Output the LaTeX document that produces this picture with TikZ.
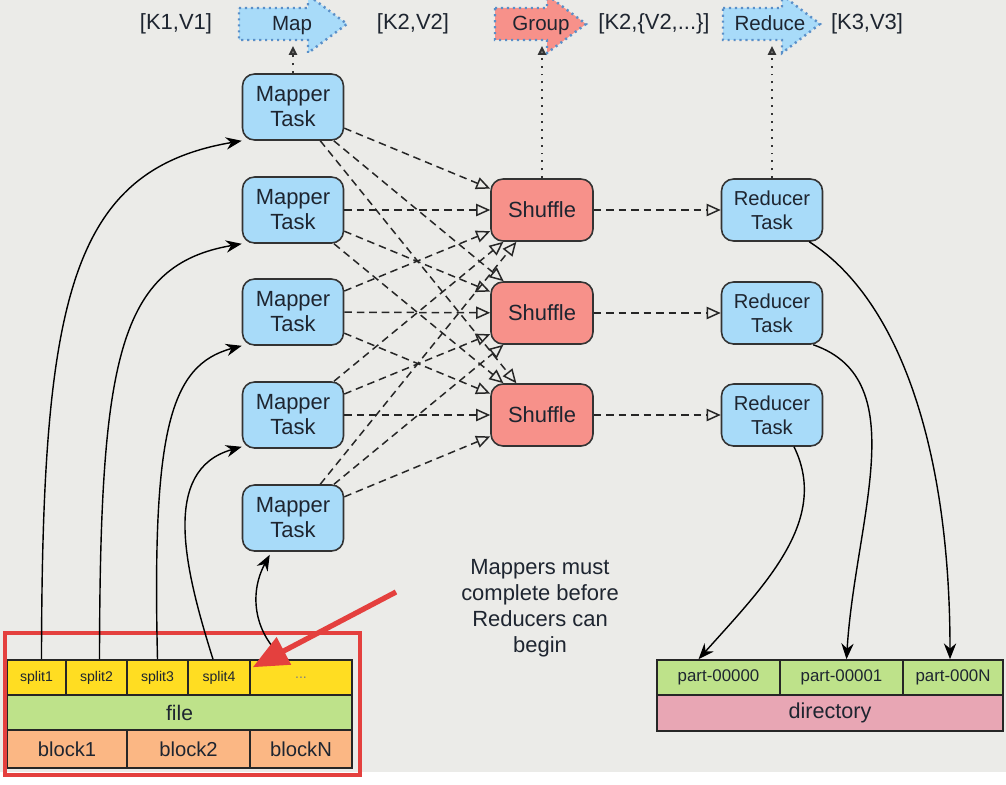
\documentclass[tikz,border=0pt]{standalone}
\usepackage{fontspec}
\setmainfont{Liberation Sans}
\usetikzlibrary{arrows.meta,calc}
\definecolor{bgc}{HTML}{EBEBE8}
\definecolor{taskblue}{HTML}{A8DBF9}
\definecolor{shufred}{HTML}{F7918A}
\definecolor{dotblue}{HTML}{5A8FC8}
\definecolor{splity}{HTML}{FFDD22}
\definecolor{fileg}{HTML}{BEE28A}
\definecolor{blocko}{HTML}{FBB784}
\definecolor{dirpink}{HTML}{E8A6B4}
\definecolor{annred}{HTML}{E4403E}
\definecolor{txt}{HTML}{1E2530}
\begin{document}
\begin{tikzpicture}[x=0.02cm,y=-0.02cm,
  every node/.style={text=txt},
  task/.style={draw=black!80, line width=0.9pt, rounded corners=0.24cm, fill=taskblue,
     minimum width=2.02cm, minimum height=1.32cm, inner sep=0pt, align=center,
     font=\fontsize{12.5}{14.2}\selectfont},
  shuf/.style={task, fill=shufred, minimum width=2.04cm, minimum height=1.24cm},
  red/.style={task, minimum height=1.24cm, font=\fontsize{11.5}{13.6}\selectfont},
  flow/.style={dash pattern=on 4.3pt off 2.8pt, line width=0.85pt, black!85,
     -{Triangle[open,length=8pt,width=7pt]}},
  up/.style={dash pattern=on 1.1pt off 3.4pt, line width=1.2pt, black!80,
     -{Triangle[open,length=5pt,width=4.5pt]}},
  feed/.style={line width=0.8pt, black, -{Stealth[length=9pt,width=7pt]}},
  bigarrow/.style={dash pattern=on 1.2pt off 2.2pt, line width=1.4pt, draw=dotblue},
  cell/.style={draw=black!85, line width=0.9pt, inner sep=0pt},
  lab/.style={font=\fontsize{12.5}{15}\selectfont},
  arlab/.style={font=\fontsize{11.7}{14}\selectfont, anchor=base}
]
\useasboundingbox (0,0) rectangle (1006,784);
\fill[bgc] (0,0) rectangle (1006,772);
\fill[white] (0,772) rectangle (1006,784);

% top arrows
\draw[bigarrow, fill=taskblue] (239,8) -- (308,8) -- (308,-5) -- (347,24) -- (308,53) -- (308,40) -- (239,40) -- cycle;
\draw[bigarrow, fill=shufred] (495,8) -- (547,8) -- (547,-5) -- (586,24) -- (547,53) -- (547,40) -- (495,40) -- cycle;
\draw[bigarrow, fill=taskblue] (723,8) -- (782,8) -- (782,-5) -- (820,24) -- (782,53) -- (782,40) -- (723,40) -- cycle;
\node[arlab] (map) at (292,31) {Map};
\node[arlab] (grp) at (541,31) {Group};
\node[arlab] (rdc) at (770,31) {Reduce};
\coordinate (mapin) at (293,46);
\coordinate (grpin) at (542,46);
\coordinate (rdcin) at (772,46);
\node[lab] (kv1) at (176,24) {[K1,V1]};
\node[lab] (kv2) at (413,24) {[K2,V2]};
\node[lab] (kv3) at (654,24) {[K2,\{V2,...\}]};
\node[lab] (kv4) at (867,24) {[K3,V3]};

% tasks
\node[task] (m1) at (293,107) {Mapper\\Task};
\node[task] (m2) at (293,210) {Mapper\\Task};
\node[task] (m3) at (293,312) {Mapper\\Task};
\node[task] (m4) at (293,415) {Mapper\\Task};
\node[task] (m5) at (293,518) {Mapper\\Task};
\node[shuf] (s1) at (542,210) {Shuffle};
\node[shuf] (s2) at (542,313) {Shuffle};
\node[shuf] (s3) at (542,415) {Shuffle};
\node[red] (r1) at (772,210) {Reducer\\Task};
\node[red] (r2) at (772,313) {Reducer\\Task};
\node[red] (r3) at (772,415) {Reducer\\Task};

% dotted up links
\draw[up] (m1.north) -- (mapin);
\draw[up] (s1.north) -- (grpin);
\draw[up] (r1.north) -- (rdcin);

% shuffle links
\foreach \m in {1,...,5}{
  \foreach \s in {1,2,3}{
    \draw[flow] (m\m) -- (s\s);
  }
}
\foreach \s in {1,2,3}{
  \draw[flow] (s\s) -- (r\s);
}

% input file
\node[cell, fill=splity, minimum width=1.18cm, minimum height=0.7cm, font=\fontsize{8}{9}\selectfont] (sp1) at (36.5,677.5) {split1};
\node[cell, fill=splity, minimum width=1.22cm, minimum height=0.7cm, font=\fontsize{8}{9}\selectfont] (sp2) at (96.5,677.5) {split2};
\node[cell, fill=splity, minimum width=1.22cm, minimum height=0.7cm, font=\fontsize{8}{9}\selectfont] (sp3) at (157.5,677.5) {split3};
\node[cell, fill=splity, minimum width=1.24cm, minimum height=0.7cm, font=\fontsize{8}{9}\selectfont] (sp4) at (219,677.5) {split4};
\node[cell, fill=splity, minimum width=2.04cm, minimum height=0.7cm, font=\fontsize{8}{9}\selectfont, text=black!50] (spn) at (301,677.5) {...};
\node[cell, fill=fileg, minimum width=6.9cm, minimum height=0.7cm, font=\fontsize{12}{14}\selectfont] (file) at (179.5,712.5) {file};
\node[cell, fill=blocko, minimum width=2.4cm, minimum height=0.76cm, font=\fontsize{11.5}{14}\selectfont] (b1) at (67,749) {block1};
\node[cell, fill=blocko, minimum width=2.46cm, minimum height=0.76cm, font=\fontsize{11.5}{14}\selectfont] (b2) at (188.5,749) {block2};
\node[cell, fill=blocko, minimum width=2.04cm, minimum height=0.76cm, font=\fontsize{11.5}{14}\selectfont] (bn) at (301,749) {blockN};
\draw[annred, line width=2pt] (5,633) rectangle (360,775);

% feed curves
\draw[feed] ($(sp1.north)+(5,0)$) .. controls (42,300) and (70,170) .. (m1.south west);
\draw[feed] ($(sp2.north)+(3,0)$) .. controls (100,360) and (118,265) .. (m2.south west);
\draw[feed] ($(sp3.north)$) .. controls (152,430) and (170,365) .. (m3.south west);
\draw[feed] ($(sp4.north)-(6,0)$) .. controls (185,570) and (160,470) .. ($(m4.south west)+(0,-2)$);
\draw[feed] ($(spn.north)-(16,0)$) .. controls (255,635) and (248,595) .. ($(m5.south west)+(28,3)$);

% annotation arrow
\coordinate (anns) at (396,592);
\draw[annred, line width=3pt, -{Triangle[length=20pt,width=17pt]}] (anns) -- ($(sp4.north east)+(2,8)$);

% output directory
\node[cell, fill=fileg, minimum width=2.46cm, minimum height=0.7cm, font=\fontsize{9.6}{11}\selectfont] (p0) at (718.5,677.5) {part-00000};
\node[cell, fill=fileg, minimum width=2.46cm, minimum height=0.7cm, font=\fontsize{9.6}{11}\selectfont] (p1) at (841.5,677.5) {part-00001};
\node[cell, fill=fileg, minimum width=2.0cm, minimum height=0.7cm, font=\fontsize{9.6}{11}\selectfont] (pn) at (953,677.5) {part-000N};
\node[cell, fill=dirpink, minimum width=6.92cm, minimum height=0.72cm, font=\fontsize{12.3}{14}\selectfont] (dir) at (830,713) {directory};

\draw[feed] ($(r1.south east)+(-14,0)$) .. controls (900,300) and (950,450) .. ($(pn.north)-(3,0)$);
\draw[feed] ($(r2.south east)+(-10,0)$) .. controls (915,380) and (855,520) .. ($(p1.north)+(5,0)$);
\draw[feed] ($(r3.south)+(22,0)$) .. controls (830,520) and (765,585) .. ($(p0.north)-(20,0)$);

% note
\node[align=center, font=\fontsize{12.5}{14.8}\selectfont] (note) at (540,608) {Mappers must\\complete before\\Reducers can\\begin};
\end{tikzpicture}
\end{document}
